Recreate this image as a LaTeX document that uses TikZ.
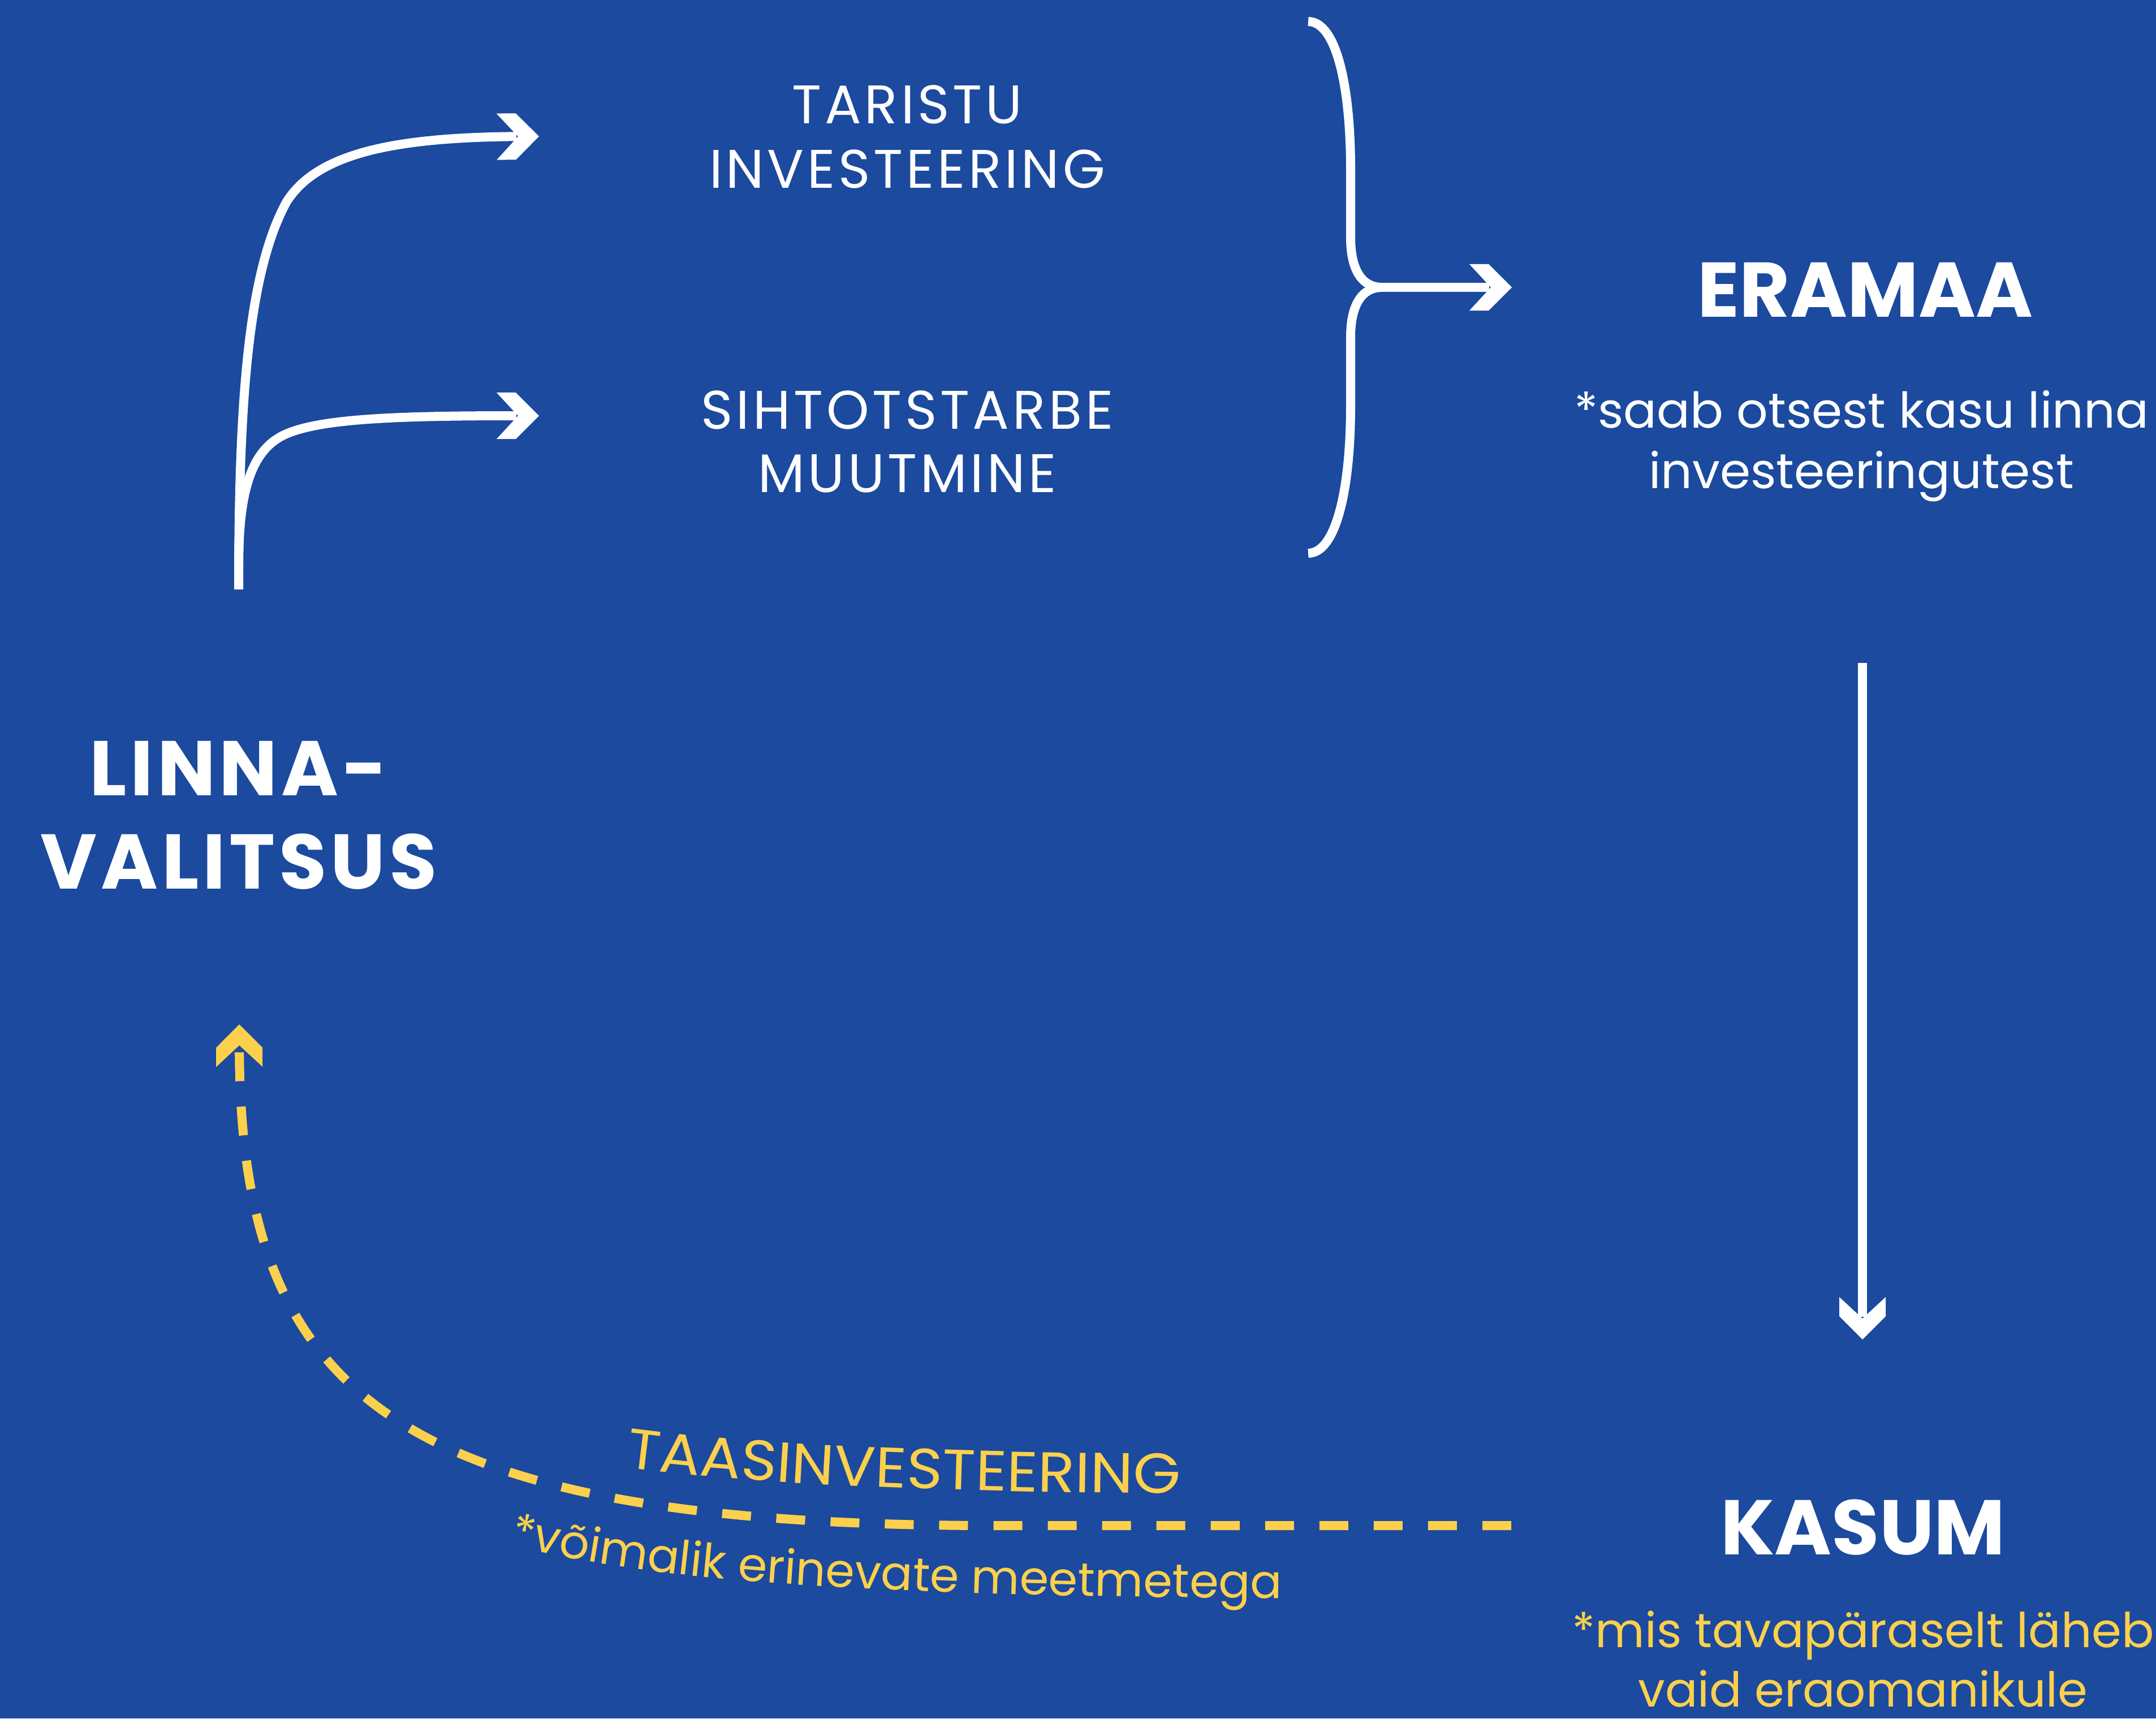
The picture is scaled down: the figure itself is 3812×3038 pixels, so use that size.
\documentclass[tikz,border=0pt]{standalone}
\usepackage{fontspec}
\setmainfont{Poppins}
\newfontfamily\capfont{Poppins}[LetterSpace=6]
\newfontfamily\widebold{Poppins}[LetterSpace=5]
\newfontfamily\taasfont{Poppins}[FakeStretch=1.08]
\usetikzlibrary{arrows.meta,decorations.text}
\definecolor{bg}{RGB}{27,74,158}
\definecolor{ylw}{RGB}{252,208,76}
\pgfdeclarearrow{
  name = Chev,
  setup code = {
    \pgfarrowssettipend{0pt}
    \pgfarrowssetbackend{-0.75cm}
    \pgfarrowssetlineend{-0.40cm}
    \pgfarrowsupperhullpoint{-0.75cm}{0.41cm}
    \pgfarrowsupperhullpoint{0pt}{0pt}
  },
  drawing code = {
    \pgfpathmoveto{\pgfpoint{0pt}{0pt}}
    \pgfpathlineto{\pgfpoint{-0.41cm}{0.41cm}}
    \pgfpathlineto{\pgfpoint{-0.75cm}{0.41cm}}
    \pgfpathlineto{\pgfpoint{-0.37cm}{0pt}}
    \pgfpathlineto{\pgfpoint{-0.75cm}{-0.41cm}}
    \pgfpathlineto{\pgfpoint{-0.41cm}{-0.41cm}}
    \pgfpathclose
    \pgfusepathqfill
  }
}
\newcommand\twol[2]{\begin{tabular}[t]{@{}c@{}}#1\\#2\end{tabular}}
\newcommand\ytxt{\fontsize{0.83cm}{1cm}\selectfont\color{ylw}}
\newcommand\ycap{\taasfont\fontsize{1.0cm}{1.1cm}\selectfont\color{ylw}}
\tikzset{
  wline/.style={draw=white, line width=0.16cm},
  warrow/.style={wline, -{Chev}},
  yarrow/.style={draw=ylw, line width=0.16cm, dash pattern=on 0.51cm off 0.45cm, -{Chev}},
  capl/.style={inner sep=0pt, anchor=base, text=white, font=\capfont\fontsize{0.96cm}{1.14cm}\selectfont},
  boldl/.style={inner sep=0pt, anchor=base, text=white, font=\fontsize{1.37cm}{1.65cm}\selectfont\bfseries},
  notel/.style={inner sep=0pt, anchor=base, font=\fontsize{0.87cm}{1.07cm}\selectfont},
}
\begin{document}
\begin{tikzpicture}[x=0.01cm, y=0.01cm]
\useasboundingbox (0,0) rectangle (3812,-3038);
\fill[bg] (0,0) rectangle (3812,-3038);

% text nodes
\node[capl] (taristu) at (1604,-218) {\twol{TARISTU}{INVESTEERING}};
\node[capl, font=\capfont\fontsize{0.96cm}{1.12cm}\selectfont] (siht) at (1604,-758) {\twol{SIHTOTSTARBE}{MUUTMINE}};
\node[boldl] (eramaa) at (3298,-560) {ERAMAA};
\node[notel, text=white] (note1) at (3291,-756) {\twol{*saab otsest kasu linna}{investeeringutest}};
\node[boldl, font=\widebold\fontsize{1.37cm}{1.65cm}\selectfont\bfseries] (linna) at (422,-1406) {\twol{LINNA-}{VALITSUS}};
\node[boldl] (kasum) at (3294,-2748) {KASUM};
\node[notel, text=ylw, font=\fontsize{0.85cm}{1.05cm}\selectfont] (note2) at (3294,-2912) {\twol{*mis tavapäraselt läheb}{vaid eraomanikule}};

% coordinates
\coordinate (lstart) at (422,-1042);
\coordinate (lbranch) at (422,-1000);
\coordinate (tarIn) at (953,-241);
\coordinate (sihIn) at (953,-735);
\coordinate (btop) at (2313,-38);
\coordinate (bbot) at (2313,-978);
\coordinate (bmid) at (2443,-508);
\coordinate (eraIn) at (2673,-508);
\coordinate (eraOut) at (3293,-1172);
\coordinate (kasIn) at (3293,-2368);
\coordinate (kasOut) at (2672,-2697);
\coordinate (linIn) at (423,-1811);

% white branching arrows
\draw[warrow] (lstart) .. controls (422,-700) and (440,-480) .. (506,-358)
  .. controls (560,-270) and (700,-243) .. (tarIn);
\draw[warrow] (lbranch) .. controls (422,-880) and (440,-800) .. (500,-770)
  .. controls (560,-740) and (700,-735) .. (sihIn);

% brace
\draw[wline] (btop) .. controls (2362,-38) and (2388,-150) .. (2388,-300)
  -- (2388,-420) .. controls (2388,-480) and (2410,-508) .. (bmid)
  .. controls (2410,-508) and (2388,-536) .. (2388,-596)
  -- (2388,-716) .. controls (2388,-866) and (2362,-978) .. (bbot);
\draw[warrow] (bmid) -- (eraIn);

% down arrow
\draw[warrow] (eraOut) -- (kasIn);

% yellow dashed return
\draw[yarrow] (kasOut) -- (1750,-2697) .. controls (700,-2695) and (425,-2470) .. (linIn);

% yellow labels along the curve
\path[decorate, decoration={text along path, text align=left,
  text={|\ycap|TAASINVESTEERING}}]
  (1105,-2594) .. controls (1350,-2626) and (1700,-2641) .. (2300,-2641);
\path[decorate, decoration={text along path, text align=left,
  text={|\ytxt|*võimalik erinevate meetmetega}}]
  (900,-2732) .. controls (1150,-2790) and (1450,-2824) .. (2400,-2826);
\end{tikzpicture}
\end{document}
